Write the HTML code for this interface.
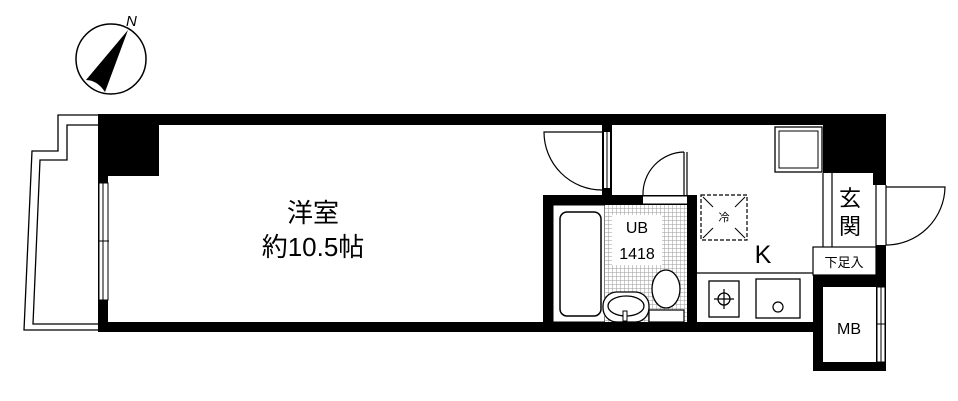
<!DOCTYPE html>
<html><head><meta charset="utf-8"><style>
html,body{margin:0;padding:0;background:#fff;width:958px;height:401px;overflow:hidden}
svg{display:block}
text{font-family:"Liberation Sans","Noto Sans CJK JP",sans-serif;fill:#000}
</style></head><body>
<svg width="958" height="401" viewBox="0 0 958 401" xmlns="http://www.w3.org/2000/svg">
<defs>
<pattern id="g" width="4" height="4" patternUnits="userSpaceOnUse">
<rect width="4" height="4" fill="#fff"/><path d="M0 0H4M0 0V4" stroke="#999" stroke-width="1"/>
</pattern>
</defs>
<circle cx="111" cy="59" r="35" fill="none" stroke="#000" stroke-width="1.5"/>
<path d="M128 30 L86 80 Q97 80 105 92 Z" fill="#000"/>
<text x="126" y="26" font-size="15" font-style="italic">N</text>
<path d="M98 115 H58 V151 H32 L24 330 H98" fill="none" stroke="#000" stroke-width="1.3"/>
<path d="M98 125 H67 V160 H40 L33 324 H98" fill="none" stroke="#000" stroke-width="1.3"/>
<rect x="98" y="114" width="788" height="11" fill="#000"/>
<rect x="98" y="114" width="10" height="218" fill="#000"/>
<rect x="98" y="114" width="61" height="62" fill="#000"/>
<rect x="98" y="322" width="715" height="10" fill="#000"/>
<rect x="99" y="183" width="9" height="117" fill="#fff" stroke="#000" stroke-width="1"/>
<line x1="103" y1="183" x2="103" y2="300" stroke="#000" stroke-width="1"/>
<line x1="98" y1="241" x2="109" y2="241" stroke="#000" stroke-width="1"/>
<text x="313" y="222" font-size="26" text-anchor="middle">洋室</text>
<text x="313" y="256" font-size="26" text-anchor="middle">約10.5帖</text>
<rect x="602" y="125" width="10" height="70" fill="#000"/>
<rect x="604" y="132" width="6" height="56" fill="#fff"/>
<line x1="607" y1="132" x2="607" y2="188" stroke="#000"/>
<path d="M602 132 H544 A58 58 0 0 0 602 190" fill="none" stroke="#000" stroke-width="1.2"/>
<rect x="543" y="195" width="10" height="137" fill="#000"/>
<rect x="543" y="195" width="154" height="10" fill="#000"/>
<rect x="687" y="195" width="10" height="137" fill="#000"/>
<rect x="643" y="196" width="44" height="8" fill="#fff"/>
<line x1="643" y1="196" x2="687" y2="196" stroke="#000"/>
<line x1="643" y1="204" x2="687" y2="204" stroke="#000"/>
<path d="M687 152 V195 M684 152 V195 M684 152 A42 42 0 0 0 643 195" fill="none" stroke="#000" stroke-width="1.2"/>
<rect x="560" y="212" width="41" height="104" rx="7" fill="none" stroke="#000" stroke-width="1.5"/>
<rect x="553" y="205" width="52" height="117" fill="none" stroke="#000" stroke-width="1"/>
<rect x="605" y="205" width="82" height="117" fill="url(#g)"/>
<rect x="612" y="215" width="50" height="50" fill="#fff"/>
<text x="637" y="233" font-size="16" text-anchor="middle">UB</text>
<text x="637" y="259" font-size="16" text-anchor="middle">1418</text>
<rect x="603" y="292" width="46" height="30" fill="#fff" stroke="#000" stroke-width="1.3" rx="14"/>
<ellipse cx="626" cy="306" rx="18" ry="10" fill="none" stroke="#000" stroke-width="1.3"/>
<rect x="623" y="311" width="4" height="10" fill="#fff" stroke="#000"/>
<ellipse cx="666" cy="289" rx="14" ry="19" fill="#fff" stroke="#000" stroke-width="1.3"/>
<rect x="649" y="310" width="35" height="12" fill="#fff" stroke="#000" stroke-width="1.2"/>
<rect x="701" y="195" width="46" height="45" fill="none" stroke="#000" stroke-dasharray="4,2" stroke-width="1.2"/>
<path d="M703 197 L713 207 M745 197 L735 207 M703 238 L713 228 M745 238 L735 228" stroke="#000" stroke-width="1"/>
<text x="724" y="221" font-size="11" text-anchor="middle">冷</text>
<text x="763" y="263" font-size="25" text-anchor="middle">K</text>
<line x1="697" y1="273" x2="813" y2="273" stroke="#000" stroke-width="1.2"/>
<rect x="709" y="281" width="30" height="36" fill="none" stroke="#000" stroke-width="1.3"/>
<circle cx="724" cy="299" r="6" fill="none" stroke="#000" stroke-width="1.3"/>
<path d="M724 289 V309 M714 299 H734" stroke="#000" stroke-width="1.2"/>
<rect x="756" y="279" width="44" height="39" fill="none" stroke="#000" stroke-width="1.3"/>
<circle cx="778" cy="307" r="5" fill="none" stroke="#000" stroke-width="1.2"/>
<rect x="775" y="127" width="47" height="45" fill="none" stroke="#000" stroke-width="1.3"/>
<rect x="779" y="131" width="39" height="37" fill="none" stroke="#000" stroke-width="1"/>
<rect x="823" y="114" width="63" height="59" fill="#000"/>
<rect x="873" y="114" width="13" height="71" fill="#000"/>
<line x1="823" y1="173" x2="823" y2="247" stroke="#000" stroke-width="1.2"/>
<line x1="832" y1="173" x2="832" y2="247" stroke="#000" stroke-width="1.2"/>
<line x1="876" y1="185" x2="876" y2="247" stroke="#000" stroke-width="1.2"/>
<text x="850" y="206" font-size="22" text-anchor="middle">玄</text>
<text x="850" y="234" font-size="22" text-anchor="middle">関</text>
<path d="M886 185 V245 M886 187 H945 A59 59 0 0 1 886 245" fill="none" stroke="#000" stroke-width="1.2"/>
<rect x="876" y="245" width="10" height="30" fill="#000"/>
<rect x="813" y="247" width="63" height="28" fill="#fff" stroke="#000" stroke-width="1.2"/>
<text x="844" y="267" font-size="13" text-anchor="middle">下足入</text>
<rect x="813" y="275" width="73" height="96" fill="#000"/>
<rect x="823" y="287" width="53" height="75" fill="#fff"/>
<rect x="877" y="287" width="8" height="75" fill="#fff" stroke="#000" stroke-width="1"/>
<line x1="881" y1="287" x2="881" y2="362" stroke="#000"/>
<line x1="876" y1="324" x2="886" y2="324" stroke="#000"/>
<text x="849" y="334" font-size="16" text-anchor="middle">MB</text>
</svg>
</body></html>
